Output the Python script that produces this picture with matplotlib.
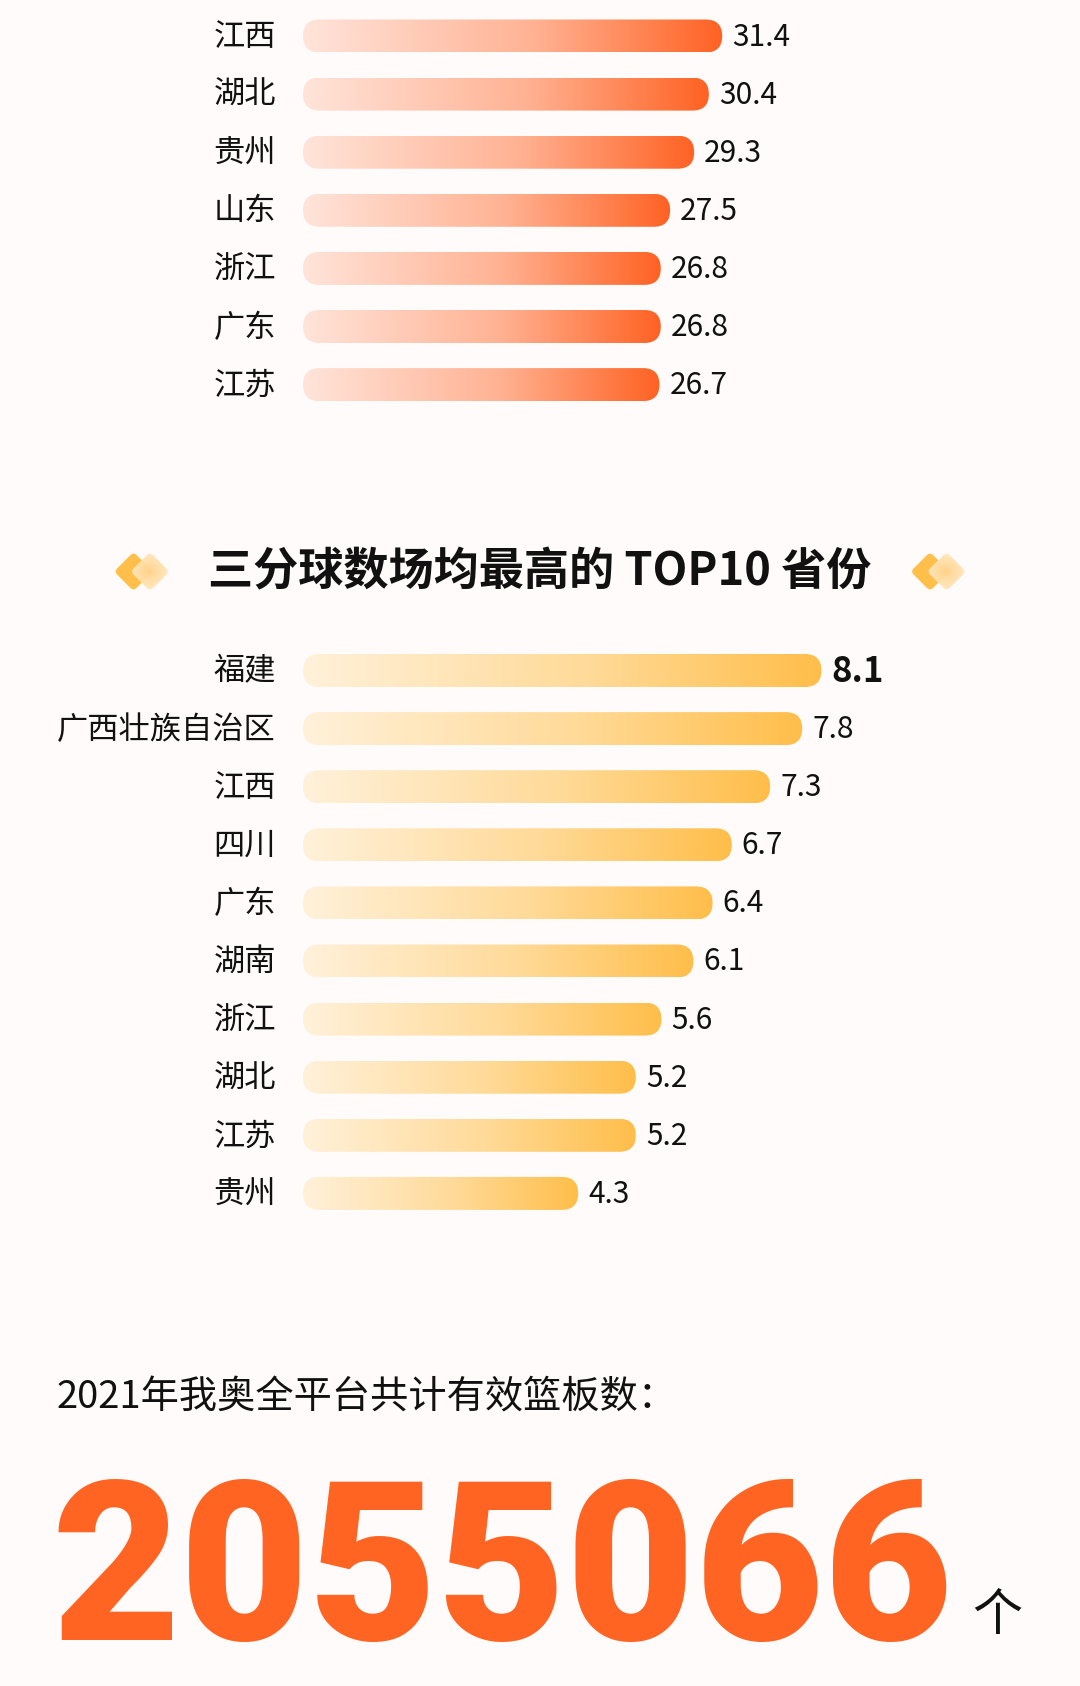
import numpy as np
import matplotlib
matplotlib.use('Agg')
import matplotlib.pyplot as plt
from matplotlib.patches import FancyBboxPatch
from matplotlib.transforms import Affine2D, IdentityTransform
from matplotlib.colors import LinearSegmentedColormap

plt.rcParams['font.family'] = ['Noto Sans CJK SC', 'DejaVu Sans']

# ---------------- data ----------------
top_provinces = ['江西', '湖北', '贵州', '山东', '浙江', '广东', '江苏']
top_values = [31.4, 30.4, 29.3, 27.5, 26.8, 26.8, 26.7]

three_provinces = ['福建', '广西壮族自治区', '江西', '四川', '广东', '湖南',
                   '浙江', '湖北', '江苏', '贵州']
three_values = [8.1, 7.8, 7.3, 6.7, 6.4, 6.1, 5.6, 5.2, 5.2, 4.3]

title_text = '三分球数场均最高的 TOP10 省份'
total_label = '2021年我奥全平台共计有效篮板数：'
total_value = '2055066'
total_unit = '个'

# ---------------- layout ----------------
W, H = 1080, 1686
BG = '#FFFBFA'
fig = plt.figure(figsize=(W / 100, H / 100), dpi=100, facecolor=BG)

deco = fig.add_axes([0, 0, 1, 1], zorder=0)
deco.set_xlim(0, W)
deco.set_ylim(H, 0)
deco.axis('off')


def px_axes(left, top, width, height, zorder=2):
    ax = fig.add_axes([left / W, 1 - (top + height) / H, width / W, height / H],
                      zorder=zorder)
    ax.patch.set_alpha(0)
    ax.axis('off')
    return ax


ROW = 58.1
BAR_PX = 33.0
BAR_LEFT = 303

cmap_top = LinearSegmentedColormap.from_list(
    'top', [(0, '#FFE4DA'), (0.55, '#FFB293'), (1, '#FF6223')])
cmap_bot = LinearSegmentedColormap.from_list(
    'bot', [(0, '#FFF1DA'), (0.55, '#FFDA98'), (1, '#FFBE4A')])

grad = np.linspace(0, 1, 256).reshape(1, -1)


def draw_bars(top_px, names, values, cmap, px_per_unit, emph_first=False):
    n = len(names)
    width_px = W - BAR_LEFT - 10
    ax = px_axes(BAR_LEFT, top_px, width_px, n * ROW)
    ax.set_xlim(0, width_px / px_per_unit)
    ax.set_ylim(n - 0.5, -0.5)
    h = BAR_PX / ROW
    for i, (name, v) in enumerate(zip(names, values)):
        x0, y0 = ax.transData.transform((0, i + h / 2))
        x1, y1 = ax.transData.transform((v, i - h / 2))
        pill = FancyBboxPatch((x0, y0), x1 - x0, y1 - y0,
                              boxstyle=f'round,pad=0,rounding_size={(y1 - y0) / 2}',
                              transform=IdentityTransform(), fc='none', ec='none')
        im = ax.imshow(grad, extent=(0, v, i + h / 2, i - h / 2), aspect='auto',
                       cmap=cmap, interpolation='bilinear', zorder=2)
        im.set_clip_path(pill)
        ax.annotate(name, xy=(0, i), xytext=(-27, -1), textcoords='offset pixels',
                    ha='right', va='center', fontsize=22.5, fontweight='medium',
                    color='#111111', annotation_clip=False)
        if emph_first and i == 0:
            ax.annotate(f'{v}', xy=(v, i), xytext=(10, -1), textcoords='offset pixels',
                        ha='left', va='center', fontsize=25, fontweight='bold',
                        color='#111111', annotation_clip=False)
        else:
            ax.annotate(f'{v}', xy=(v, i), xytext=(10, -1), textcoords='offset pixels',
                        ha='left', va='center', fontsize=21.5, fontweight='medium',
                        color='#111111', annotation_clip=False)
    ax.set_xlim(0, width_px / px_per_unit)
    ax.set_ylim(n - 0.5, -0.5)
    return ax


draw_bars(36.0 - ROW / 2, top_provinces, top_values, cmap_top, 13.35)
draw_bars(670.5 - ROW / 2, three_provinces, three_values, cmap_bot, 64.0,
          emph_first=True)

# ---------------- title with diamonds ----------------
deco.text(540, 572, title_text, ha='center', va='center', fontsize=32.5,
          fontweight='bold', color='#111111')

rad = np.hypot(*np.meshgrid(np.linspace(-1, 1, 64), np.linspace(-1, 1, 64)))
cmap_rad = LinearSegmentedColormap.from_list(
    'rad', [(0, '#FFD48A'), (0.6, '#FFE6BC'), (1, '#FFF6E8')])


def diamond(cx, cy, half, **kw):
    side = half * np.sqrt(2)
    p = FancyBboxPatch((cx - side / 2, cy - side / 2), side, side,
                       boxstyle=f'round,pad=0,rounding_size={side * 0.16}',
                       transform=Affine2D().rotate_deg_around(cx, cy, 45) + deco.transData,
                       **kw)
    return p


for lx in (133.5, 930.0):
    d1 = diamond(lx, 571.5, 19.5, fc='#FFBF4A', ec='none', zorder=1)
    deco.add_patch(d1)
    cx2 = lx + 16.5
    d2 = diamond(cx2, 571.5, 19.5, fc='none', ec='none', zorder=2)
    deco.add_patch(d2)
    im = deco.imshow(rad, extent=(cx2 - 20, cx2 + 20, 592, 551), cmap=cmap_rad,
                     aspect='auto', interpolation='bilinear', zorder=2, alpha=0.95)
    im.set_clip_path(d2)

deco.set_xlim(0, W)
deco.set_ylim(H, 0)

# ---------------- total ----------------
deco.text(57, 1398, total_label, ha='left', va='center', fontsize=27.5,
          color='#111111')
deco.text(52, 1640, total_value, ha='left', va='baseline', fontsize=160,
          fontweight='black', family=['Roboto', 'DejaVu Sans'], color='#FF6422')
deco.text(972, 1630, total_unit, ha='left', va='baseline', fontsize=36,
          color='#111111')

fig.savefig('out.png', dpi=100, facecolor=BG)
